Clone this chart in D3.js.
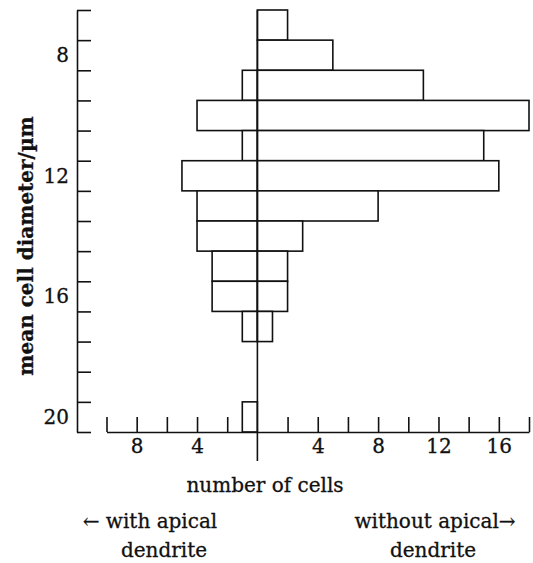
<!DOCTYPE html>
<html>
<head>
<meta charset="utf-8">
<script src="https://cdn.jsdelivr.net/npm/d3@7"></script>
<style>
  body { margin: 0; background: #fff; }
  svg text { font-family: "DejaVu Serif", serif; fill: #111; stroke: #111; stroke-width: 0.3px; }
</style>
</head>
<body>
<div id="chart"></div>
<script>
// bin centres (mean cell diameter, µm) and counts on each side
const diameters = [7, 8, 9, 10, 11, 12, 13, 14, 15, 16, 17, 18, 19, 20];
const withApical = [0, 0, 1, 4, 1, 5, 4, 4, 3, 3, 1, 0, 0, 1];
const withoutApical = [2, 5, 11, 18, 15, 16, 8, 3, 2, 2, 1, 0, 0, 0];
const yLabels = [8, 12, 16, 20];
const xTicks = [-10, -8, -6, -4, -2, 2, 4, 6, 8, 10, 12, 14, 16, 18];
const xLabels = [-8, -4, 4, 8, 12, 16];

const width = 533, height = 563;
const ink = "#111";
const fontSize = 20;

const svg = d3.select("#chart").append("svg")
    .attr("width", width)
    .attr("height", height);

const y = d3.scaleLinear([6.5, 20.5], [10, 432]);
const x = d3.scaleLinear([-10, 18], [106.5, 529]);

const bins = diameters.map((d, i) => ({d: d, left: withApical[i], right: withoutApical[i]}));

// bars - left side (with apical dendrite)
svg.append("g").selectAll("rect.left")
    .data(bins.filter(b => b.left > 0))
    .join("rect")
    .attr("x", b => x(-b.left))
    .attr("y", b => y(b.d - 0.5))
    .attr("width", b => x(0) - x(-b.left))
    .attr("height", b => y(b.d + 0.5) - y(b.d - 0.5))
    .attr("fill", "#fff")
    .attr("stroke", ink)
    .attr("stroke-width", 1.6);

// bars - right side (without apical dendrite)
svg.append("g").selectAll("rect.right")
    .data(bins.filter(b => b.right > 0))
    .join("rect")
    .attr("x", x(0))
    .attr("y", b => y(b.d - 0.5))
    .attr("width", b => x(b.right) - x(0))
    .attr("height", b => y(b.d + 0.5) - y(b.d - 0.5))
    .attr("fill", "#fff")
    .attr("stroke", ink)
    .attr("stroke-width", 1.6);

// zero line, runs below the x axis
svg.append("line")
    .attr("x1", x(0)).attr("x2", x(0))
    .attr("y1", y(6.5)).attr("y2", 461)
    .attr("stroke", ink)
    .attr("stroke-width", 1.6);

// y axis: ticks at bin edges
const edges = d3.range(6.5, 20.6, 1);
svg.append("g")
    .attr("transform", "translate(77,0)")
    .call(d3.axisRight(y).tickValues(edges).tickSize(14).tickSizeOuter(0).tickFormat(""))
    .call(g => g.selectAll("line, path").attr("stroke", ink).attr("stroke-width", 1.6));

svg.append("g")
    .attr("transform", "translate(77,0)")
    .call(d3.axisLeft(y).tickValues(yLabels).tickSize(0).tickPadding(8))
    .call(g => g.select(".domain").remove())
    .call(g => g.selectAll("text").attr("font-size", fontSize).attr("font-family", "DejaVu Serif").attr("fill", ink));

// x axis: ticks point up, labels below
svg.append("g")
    .attr("transform", "translate(0,432)")
    .call(d3.axisBottom(x).tickValues(xTicks).tickSize(-15).tickSizeOuter(0)
        .tickFormat(d => xLabels.includes(d) ? Math.abs(d) : ""))
    .call(g => g.selectAll("line, path").attr("stroke", ink).attr("stroke-width", 1.6))
    .call(g => g.selectAll("text").attr("font-size", fontSize).attr("font-family", "DejaVu Serif")
        .attr("fill", ink).attr("y", 7));

// axis titles
svg.append("text")
    .attr("transform", "translate(33,246) rotate(-90)")
    .attr("text-anchor", "middle")
    .attr("font-size", fontSize)
    .attr("font-weight", "bold")
    .text("mean cell diameter/µm");

svg.append("text")
    .attr("x", 265).attr("y", 492)
    .attr("text-anchor", "middle")
    .attr("font-size", fontSize)
    .text("number of cells");

const notes = [
    {x: 150, y: 528, t: "\u2190 with apical"},
    {x: 164, y: 557, t: "dendrite"},
    {x: 435, y: 528, t: "without apical\u2192"},
    {x: 433, y: 557, t: "dendrite"}
];
svg.append("g").selectAll("text")
    .data(notes)
    .join("text")
    .attr("x", d => d.x).attr("y", d => d.y)
    .attr("text-anchor", "middle")
    .attr("font-size", fontSize)
    .text(d => d.t);
</script>
</body>
</html>
